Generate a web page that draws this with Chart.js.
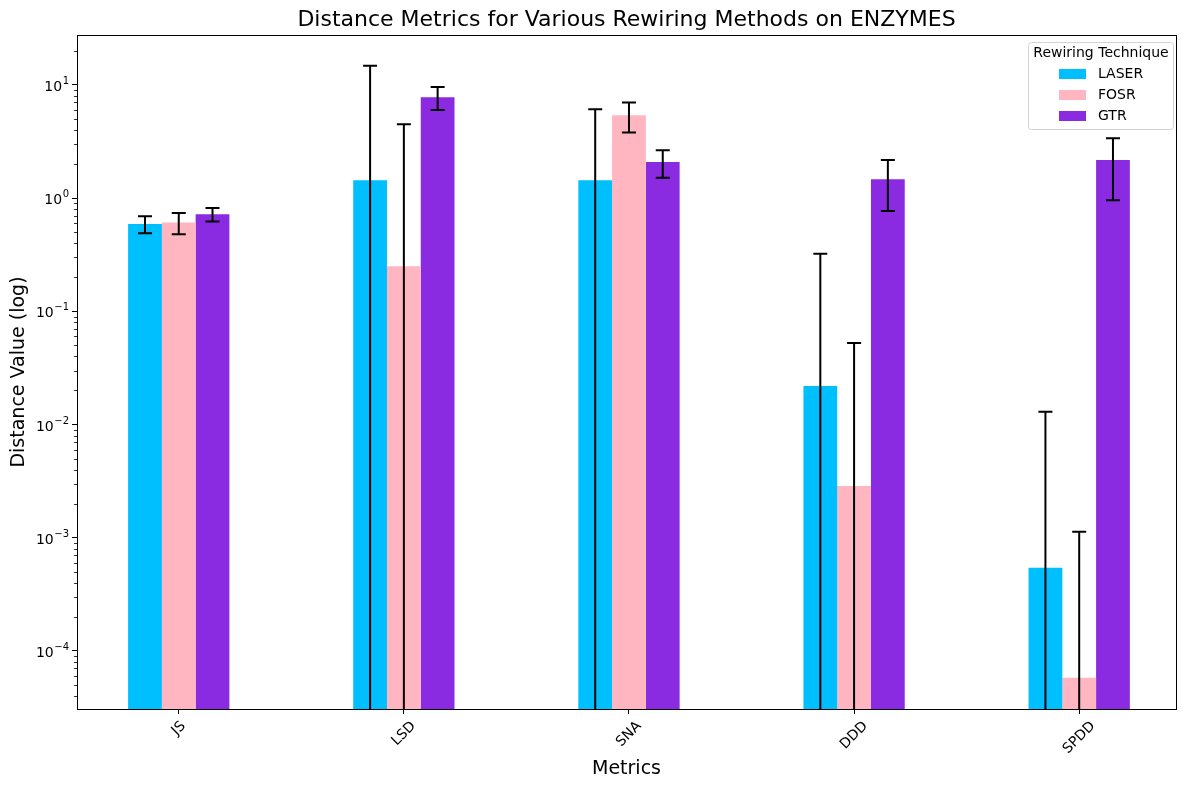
<!DOCTYPE html>
<html>
<head>
<meta charset="utf-8">
<script src="https://cdn.jsdelivr.net/npm/chart.js@4.4.1/dist/chart.umd.min.js"></script>
<style>
  html, body { margin: 0; padding: 0; background: #fff; }
</style>
</head>
<body>
<canvas id="distChart" width="1189" height="790"></canvas>
<script>
// === Data ===
const metrics = ['JS', 'LSD', 'SNA', 'DDD', 'SPDD'];
const techniques = ['LASER', 'FOSR', 'GTR'];
const colors = ['#00BFFF', '#FFB6C1', '#8A2BE2'];
const laserMean = [0.59, 1.44, 1.44, 0.0219, 0.000542];
const laserStd = [0.10, 13.3, 4.66, 0.30, 0.0124];
const fosrMean = [0.61, 0.25, 5.4, 0.00287, 0.000058];
const fosrStd = [0.13, 4.25, 1.6, 0.0496, 0.00107];
const gtrMean = [0.72, 7.8, 2.08, 1.47, 2.17];
const gtrStd = [0.10, 1.8, 0.57, 0.70, 1.21];
const yTickValues = [1e-4, 1e-3, 1e-2, 1e-1, 1e0, 1e1];

const FONT = '"DejaVu Sans", sans-serif';
const means = [laserMean, fosrMean, gtrMean];
const stds = [laserStd, fosrStd, gtrStd];

function exponentOf(v) {
  const e = Math.round(Math.log10(v));
  return (e < 0 ? '\u2212' : '') + Math.abs(e);
}

// === Error bars (clipped to plot area, like matplotlib) ===
const errorBars = {
  id: 'errorBars',
  afterDatasetsDraw(chart) {
    const ctx = chart.ctx;
    const yScale = chart.scales.y;
    const area = chart.chartArea;
    ctx.save();
    ctx.beginPath();
    ctx.rect(area.left, area.top, area.right - area.left, area.bottom - area.top);
    ctx.clip();
    ctx.strokeStyle = '#000';
    ctx.lineWidth = 2;
    chart.data.datasets.forEach((ds, d) => {
      chart.getDatasetMeta(d).data.forEach((bar, i) => {
        const m = ds.data[i].y;
        const s = ds.errors[i];
        const yHi = yScale.getPixelForValue(m + s);
        const hasLo = m - s > 0;
        const yLo = hasLo ? yScale.getPixelForValue(m - s) : area.bottom + 5;
        ctx.beginPath();
        ctx.moveTo(bar.x, yHi);
        ctx.lineTo(bar.x, yLo);
        ctx.moveTo(bar.x - 7, yHi);
        ctx.lineTo(bar.x + 7, yHi);
        if (hasLo) {
          ctx.moveTo(bar.x - 7, yLo);
          ctx.lineTo(bar.x + 7, yLo);
        }
        ctx.stroke();
      });
    });
    ctx.restore();
  }
};

// === Frame, minor ticks, labels, titles, legend ===
const decorations = {
  id: 'decorations',
  afterDraw(chart) {
    const ctx = chart.ctx;
    const area = chart.chartArea;
    const xScale = chart.scales.x;
    const yScale = chart.scales.y;
    ctx.save();

    // frame
    ctx.strokeStyle = '#000';
    ctx.lineWidth = 1;
    ctx.strokeRect(area.left + 0.5, area.top + 0.5, area.right - area.left, area.bottom - area.top);

    // minor y ticks
    ctx.lineWidth = 0.8;
    ctx.beginPath();
    for (let e = -5; e <= 1; e++) {
      for (let k = 2; k <= 9; k++) {
        const v = k * Math.pow(10, e);
        if (v < yScale.min || v > yScale.max) continue;
        const py = Math.round(yScale.getPixelForValue(v)) + 0.5;
        ctx.moveTo(area.left - 3, py);
        ctx.lineTo(area.left, py);
      }
    }
    ctx.stroke();

    // y tick labels: 10 with raised exponent
    ctx.fillStyle = '#000';
    ctx.textBaseline = 'alphabetic';
    ctx.textAlign = 'left';
    yTickValues.forEach(v => {
      const py = yScale.getPixelForValue(v);
      const exp = exponentOf(v);
      ctx.font = '10px ' + FONT;
      const ew = ctx.measureText(exp).width;
      ctx.font = '14px ' + FONT;
      const bw = ctx.measureText('10').width;
      const right = area.left - 8;
      const x0 = right - ew - bw - 0.5;
      ctx.fillText('10', x0, py + 6);
      ctx.font = '10px ' + FONT;
      ctx.fillText(exp, x0 + bw + 0.5, py - 1);
    });

    // x tick labels, rotated 45 and centred on tick
    ctx.font = '14px ' + FONT;
    ctx.textAlign = 'center';
    ctx.textBaseline = 'middle';
    metrics.forEach((m, i) => {
      const px = xScale.getPixelForValue(i);
      const w = ctx.measureText(m).width;
      const cy = area.bottom + 10 + (w + 14) / (2 * Math.SQRT2);
      ctx.save();
      ctx.translate(px, cy);
      ctx.rotate(-Math.PI / 4);
      ctx.fillText(m, 0, 0);
      ctx.restore();
    });

    // axis titles
    ctx.font = '19px ' + FONT;
    ctx.fillText('Metrics', (area.left + area.right) / 2, 769);
    ctx.save();
    ctx.translate(19, (area.top + area.bottom) / 2);
    ctx.rotate(-Math.PI / 2);
    ctx.fillText('Distance Value (log)', 0, 0);
    ctx.restore();

    // main title
    ctx.font = '22px ' + FONT;
    ctx.textBaseline = 'alphabetic';
    ctx.fillText('Distance Metrics for Various Rewiring Methods on ENZYMES', (area.left + area.right) / 2, 26);

    // legend
    ctx.fillStyle = 'rgba(255,255,255,0.8)';
    ctx.strokeStyle = '#d3d3d3';
    ctx.lineWidth = 1;
    ctx.beginPath();
    ctx.roundRect(1028.5, 42.5, 145, 87, 3);
    ctx.fill();
    ctx.stroke();
    ctx.fillStyle = '#000';
    ctx.font = '14px ' + FONT;
    ctx.textAlign = 'center';
    ctx.textBaseline = 'middle';
    ctx.fillText('Rewiring Technique', 1101, 53);
    ctx.textAlign = 'left';
    chart.data.datasets.forEach((ds, d) => {
      const cy = 74 + d * 21;
      ctx.fillStyle = ds.backgroundColor;
      ctx.fillRect(1059, cy - 5, 27, 10);
      ctx.fillStyle = '#000';
      ctx.fillText(ds.label, 1098, cy);
    });

    ctx.restore();
  }
};

// === Chart ===
const datasets = techniques.map((t, d) => ({
  label: t,
  data: means[d].map((v, i) => ({ x: i, y: v })),
  errors: stds[d],
  backgroundColor: colors[d],
  borderWidth: 0,
  barPercentage: 1.0,
  categoryPercentage: 0.45
}));

new Chart(document.getElementById('distChart'), {
  type: 'bar',
  data: { datasets: datasets },
  options: {
    responsive: false,
    animation: false,
    devicePixelRatio: 1,
    layout: { padding: { top: 35, right: 13, left: 0, bottom: 0 } },
    plugins: {
      legend: { display: false },
      title: { display: false },
      tooltip: { enabled: false }
    },
    scales: {
      x: {
        type: 'linear',
        min: -0.452,
        max: 4.43,
        offset: false,
        border: { display: false },
        grid: { offset: false, drawOnChartArea: false, drawTicks: true, tickLength: 5, color: '#000' },
        ticks: { display: false },
        afterBuildTicks: scale => { scale.ticks = metrics.map((m, i) => ({ value: i })); },
        afterFit: scale => { scale.height = 81; }
      },
      y: {
        type: 'logarithmic',
        min: 3.07e-5,
        max: 27.6,
        border: { display: false },
        grid: { drawOnChartArea: false, drawTicks: true, tickLength: 5, color: '#000' },
        ticks: { display: false },
        afterBuildTicks: scale => { scale.ticks = yTickValues.map(v => ({ value: v })); },
        afterFit: scale => { scale.width = 77; }
      }
    }
  },
  plugins: [errorBars, decorations]
});
</script>
</body>
</html>
